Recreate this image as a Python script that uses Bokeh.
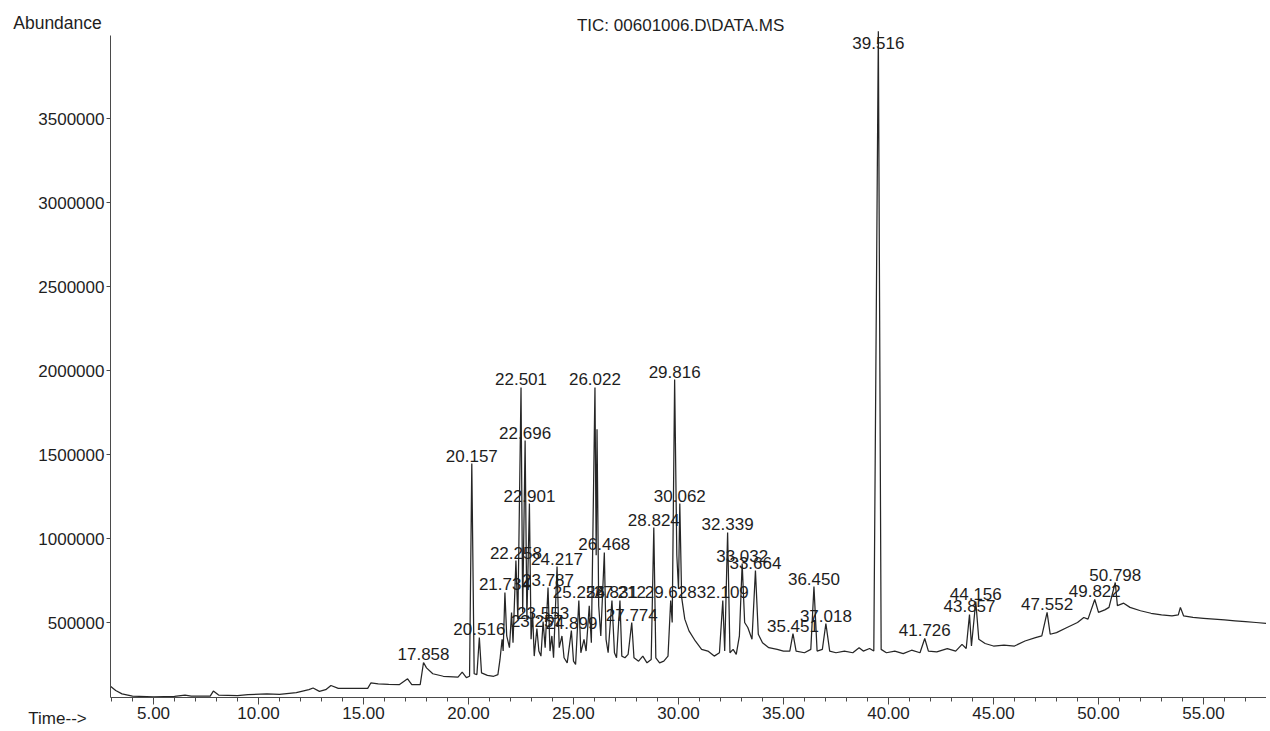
from bokeh.plotting import figure
from bokeh.models import Range1d, FixedTicker, BasicTickFormatter, PrintfTickFormatter, Label, ColumnDataSource, LinearAxis
from bokeh.core.properties import value
from bokeh.embed import file_html
from bokeh.resources import INLINE

# ---- data (time in min, abundance in counts) ----
time_min = [
    2.95, 3.2, 3.5, 4.0, 5.0, 6.0, 6.5, 6.8, 7.7, 7.85, 8.1, 9.0, 9.5, 10.4, 11.0, 11.8,
    12.4, 12.6, 12.9, 13.2, 13.45, 13.8, 14.5, 15.2, 15.35, 15.7, 16.2, 16.7, 17.1, 17.3,
    17.7, 17.858, 18.0, 18.3, 18.8, 19.5, 19.7, 19.9, 20.05, 20.157, 20.27, 20.4, 20.516,
    20.62, 20.9, 21.2, 21.4, 21.5, 21.6, 21.65, 21.734, 21.82, 21.95, 22.05, 22.12, 22.258,
    22.35, 22.501, 22.58, 22.696, 22.78, 22.901, 22.98, 23.05, 23.13, 23.257, 23.35, 23.45,
    23.553, 23.65, 23.787, 23.88, 23.97, 24.05, 24.217, 24.32, 24.45, 24.55, 24.7, 24.899,
    25.0, 25.1, 25.254, 25.35, 25.5, 25.6, 25.75, 25.85, 26.022, 26.08, 26.12, 26.2, 26.3,
    26.468, 26.55, 26.65, 26.831, 26.95, 27.05, 27.212, 27.3, 27.45, 27.6, 27.774, 27.88,
    28.1, 28.3, 28.5, 28.7, 28.824, 28.92, 29.1, 29.3, 29.5, 29.628, 29.7, 29.816, 29.92,
    30.0, 30.062, 30.15, 30.3, 30.5, 30.8, 31.1, 31.4, 31.7, 31.95, 32.109, 32.2, 32.339,
    32.45, 32.6, 32.75, 32.9, 33.032, 33.15, 33.3, 33.5, 33.664, 33.8, 34.0, 34.3, 34.7,
    35.0, 35.3, 35.451, 35.6, 36.0, 36.3, 36.45, 36.6, 36.85, 37.018, 37.2, 37.5, 37.9,
    38.3, 38.6, 38.8, 39.1, 39.3, 39.516, 39.65, 39.9, 40.3, 40.7, 41.1, 41.5, 41.726,
    41.9, 42.3, 42.8, 43.2, 43.5, 43.7, 43.857, 43.95, 44.156, 44.3, 44.6, 45.0, 45.5,
    46.0, 46.5, 47.0, 47.3, 47.552, 47.7, 48.0, 48.5, 49.0, 49.3, 49.5, 49.822, 50.0,
    50.3, 50.5, 50.798, 50.9, 51.2, 51.5, 52.0, 52.5, 53.0, 53.5, 53.8, 53.9, 54.05, 54.5,
    55.0, 55.5, 56.0, 56.5, 57.0, 57.5, 58.0,
]
abundance = [
    120000, 95000, 75000, 62000, 58000, 60000, 68000, 62000, 62000, 92000, 68000, 65000, 70000, 75000, 72000, 82000,
    100000, 110000, 90000, 100000, 125000, 108000, 108000, 108000, 140000, 135000, 132000, 130000, 165000, 130000,
    130000, 262000, 230000, 195000, 180000, 175000, 205000, 172000, 180000, 1446000, 195000, 190000, 411000,
    200000, 185000, 180000, 190000, 280000, 400000, 330000, 679000, 420000, 350000, 560000, 380000, 869000,
    520000, 1899000, 560000, 1583000, 520000, 1208000, 400000, 560000, 300000, 464000, 330000, 300000,
    506000, 350000, 708000, 330000, 420000, 290000, 833000, 350000, 420000, 290000, 260000, 452000,
    270000, 250000, 631000, 320000, 400000, 330000, 600000, 380000, 1899000, 900000, 1650000, 600000, 420000,
    917000, 400000, 320000, 631000, 320000, 290000, 631000, 300000, 290000, 310000, 500000, 290000,
    270000, 300000, 260000, 280000, 1065000, 290000, 260000, 270000, 300000, 631000, 500000, 1946000, 900000,
    700000, 1208000, 650000, 520000, 450000, 390000, 340000, 330000, 300000, 320000, 631000, 330000, 1036000,
    320000, 340000, 310000, 420000, 851000, 500000, 470000, 400000, 809000, 430000, 380000, 350000, 340000,
    330000, 330000, 434000, 330000, 320000, 340000, 714000, 330000, 340000, 494000, 330000, 320000, 330000,
    320000, 350000, 330000, 345000, 330000, 4020000, 340000, 320000, 330000, 315000, 335000, 320000, 405000,
    330000, 325000, 345000, 330000, 370000, 345000, 548000, 360000, 625000, 400000, 375000, 360000, 365000,
    360000, 390000, 410000, 420000, 560000, 430000, 440000, 470000, 500000, 530000, 520000, 637000, 560000,
    575000, 590000, 738000, 600000, 615000, 590000, 570000, 555000, 545000, 540000, 545000, 590000, 540000, 530000,
    525000, 520000, 515000, 510000, 505000, 500000, 495000,
]
peak_rt = [
    17.858, 20.157, 20.516, 21.734, 22.258, 22.501, 22.696, 22.901, 23.257, 23.553, 23.787,
    24.217, 24.899, 25.254, 26.022, 26.468, 26.831, 27.212, 27.774, 28.824, 29.628, 29.816,
    30.062, 32.109, 32.339, 33.032, 33.664, 35.451, 36.45, 37.018, 39.516, 41.726, 43.857,
    44.156, 47.552, 49.822, 50.798,
]
y_ticks = [500000, 1000000, 1500000, 2000000, 2500000, 3000000, 3500000]
x_ticks = [5, 10, 15, 20, 25, 30, 35, 40, 45, 50, 55]
x_minor = list(range(3, 58))

FONT = "Liberation Sans"
INK = "#1e1e1e"
AX = "#4a4a4a"

W, H = 1266, 728
PX_PER_MIN = 21.0
PX_PER_COUNT = 0.000168
X0 = -48 / PX_PER_MIN
X1 = X0 + W / PX_PER_MIN
Y1 = 706 / PX_PER_COUNT
Y0 = Y1 - H / PX_PER_COUNT
AXIS_T = 2.95                   # where the abundance axis sits
AXIS_V = 53600                  # where the time axis sits
TOP_V = 3994000

p = figure(width=W, height=H, output_backend="svg", toolbar_location=None,
           x_range=Range1d(X0, X1), y_range=Range1d(Y0, Y1),
           x_axis_location=None, y_axis_location=None,
           min_border_left=0, min_border_right=0, min_border_top=0, min_border_bottom=0)
p.outline_line_color = None
p.xgrid.visible = False
p.ygrid.visible = False
p.background_fill_color = "white"
p.border_fill_color = "white"

p.line(time_min, abundance, line_color="#262626", line_width=1.25)

apex = [abundance[time_min.index(t)] for t in peak_rt]
src = ColumnDataSource(dict(
    x=peak_rt,
    y=[min(a, 3900000) for a in apex],
    t=["%.3f" % t for t in peak_rt],
))
p.text(x="x", y="y", text="t", source=src, text_align="center", text_baseline="bottom",
       y_offset=-2, text_font=value(FONT), text_font_size="17px", text_color=INK)

# axes
ya = LinearAxis(fixed_location=AXIS_T, bounds=(AXIS_V, TOP_V))
ya.ticker = FixedTicker(ticks=y_ticks, minor_ticks=[])
ya.formatter = BasicTickFormatter(use_scientific=False)
ya.major_tick_out = 4
ya.major_tick_in = 0
ya.major_label_standoff = 2
ya.axis_line_color = AX
ya.major_tick_line_color = AX
ya.major_label_text_font = FONT
ya.major_label_text_font_size = "17px"
ya.major_label_text_color = INK
p.add_layout(ya, "left")

xa = LinearAxis(fixed_location=AXIS_V, bounds=(AXIS_T, X1))
xa.ticker = FixedTicker(ticks=x_ticks, minor_ticks=x_minor)
xa.formatter = PrintfTickFormatter(format="%.2f")
xa.major_tick_out = 7
xa.major_tick_in = 0
xa.minor_tick_out = 4
xa.minor_tick_in = 0
xa.major_label_standoff = 3
xa.axis_line_color = AX
xa.major_tick_line_color = AX
xa.minor_tick_line_color = AX
xa.major_label_text_font = FONT
xa.major_label_text_font_size = "17px"
xa.major_label_text_color = INK
p.add_layout(xa, "below")

p.add_layout(Label(x=0.43, y=4070000, text="Abundance", text_align="center", text_baseline="middle",
                   text_font=FONT, text_font_size="17.5px", text_color=INK))
p.add_layout(Label(x=0.43, y=-71000, text="Time-->", text_align="center", text_baseline="middle",
                   text_font=FONT, text_font_size="17px", text_color=INK))
p.add_layout(Label(x=30.1, y=4053000, text="TIC: 00601006.D\\DATA.MS", text_align="center",
                   text_baseline="middle", text_font=FONT, text_font_size="17px", text_color=INK))

open("out.html", "w").write(file_html(p, INLINE))
